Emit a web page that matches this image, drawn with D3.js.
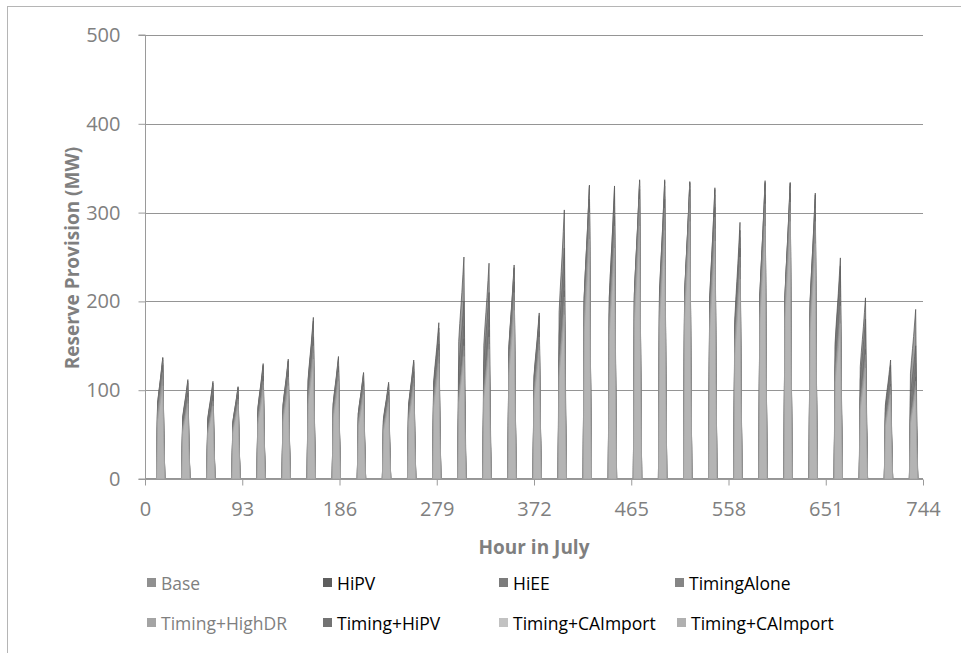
<!DOCTYPE html>
<html>
<head>
<meta charset="utf-8">
<script src="https://cdn.jsdelivr.net/npm/d3@7"></script>
<style>
  html, body { margin: 0; padding: 0; background: #fff; }
  svg { display: block; }
  text { font-family: "Open Sans", "DejaVu Sans", sans-serif; }
</style>
</head>
<body>
<svg id="chart" width="961" height="653"></svg>
<script>
// Daily peak reserve provision (MW) per scenario, July days 1..31
const seriesNames = ["Base", "HiPV", "HiEE", "TimingAlone",
  "Timing+HighDR", "Timing+HiPV", "Timing+CAImport", "Timing+CAImport"];

const base          = [130,100,96,97,118,126,165,130,112,100,124,155,160,171,227,170,216,320,300,330,318,330,310,265,325,328,305,205,149,110,118];
const hiPV          = [137,112,110,104,130,135,182,138,120,109,134,176,250,243,241,187,303,331,330,337,337,335,328,289,336,334,322,249,204,134,191];
const hiEE          = [128,97,94,95,116,122,160,127,110,98,121,152,158,168,222,166,212,315,296,326,315,326,306,260,320,322,300,200,146,107,115];
const timingAlone   = [134,108,106,102,126,132,175,134,118,105,130,165,172,180,236,180,230,328,310,334,330,333,320,272,332,330,315,215,155,120,130];
const timingHighDR  = [120,92,88,90,110,115,150,120,104,94,114,145,150,160,210,160,205,300,285,315,305,318,295,250,310,312,290,195,140,104,110];
const timingHiPV    = [136,110,108,103,128,133,178,136,119,107,132,170,200,210,238,184,260,330,328,336,335,334,326,280,334,333,320,240,180,128,150];
const timingCA1     = [105,85,82,84,100,105,135,110,95,86,104,130,138,146,190,145,185,270,260,285,280,290,268,225,285,290,265,175,125,95,100];
const timingCA2     = [112,88,86,88,106,112,142,115,100,90,108,138,145,152,200,152,195,285,275,300,295,305,282,238,298,302,280,185,132,100,105];

// Typical within-day shape of reserve holding: hour of day and share of the daily peak
const profileHours = [11, 12, 13, 14, 15, 16, 17, 18, 19];
const profileShare = [0, 0.62, 0.7, 0.77, 0.84, 0.92, 1, 0.4, 0];

const xTicks = [0, 93, 186, 279, 372, 465, 558, 651, 744];
const yTicks = [0, 100, 200, 300, 400, 500];

const seriesPeaks = [base, hiPV, hiEE, timingAlone, timingHighDR, timingHiPV, timingCA1, timingCA2];
const fills   = ["#909090", "#5e5e5e", "#7c7c7c", "#858585", "#a4a4a4", "#737373", "#c2c2c2", "#b0b0b0"];
const labelColors = ["#7f7f7f", "#000", "#000", "#000", "#7f7f7f", "#000", "#000", "#000"];
// draw order: tallest first so lower series stay visible on top
const drawOrder = [1, 5, 3, 0, 2, 7, 4, 6];

const svg = d3.select("#chart");
const plotL = 145, plotR = 923, plotT = 35, plotB = 479;

const x = d3.scaleLinear().domain([0, 744]).range([plotL, plotR]);
const y = d3.scaleLinear().domain([0, 500]).range([plotB, plotT]);

// frame lines (left and top)
svg.append("line").attr("x1", 7.5).attr("x2", 7.5).attr("y1", 6).attr("y2", 653)
  .attr("stroke", "#b5b5b5").attr("stroke-width", 1);
svg.append("line").attr("x1", 7).attr("x2", 961).attr("y1", 6.5).attr("y2", 6.5)
  .attr("stroke", "#b5b5b5").attr("stroke-width", 1);

// horizontal gridlines
svg.append("g").selectAll("line").data(yTicks.filter(d => d > 0)).join("line")
  .attr("x1", plotL).attr("x2", plotR)
  .attr("y1", d => Math.round(y(d)) + 0.5).attr("y2", d => Math.round(y(d)) + 0.5)
  .attr("stroke", "#959595").attr("stroke-width", 1.2);

// series areas
const area = d3.area()
  .x(d => x(d.t))
  .y0(y(0))
  .y1(d => y(d.v));

function seriesPoints(peaks) {
  const pts = [{t: 0, v: 0}];
  peaks.forEach((p, day) => {
    profileHours.forEach((h, i) => {
      pts.push({t: day * 24 + h, v: p * profileShare[i]});
    });
  });
  pts.push({t: 744, v: 0});
  return pts;
}

const gSeries = svg.append("g");
drawOrder.forEach(i => {
  gSeries.append("path")
    .datum(seriesPoints(seriesPeaks[i]))
    .attr("d", area)
    .attr("fill", fills[i])
    .attr("fill-opacity", 0.6)
    .attr("stroke", d3.color(fills[i]).darker(0.5))
    .attr("stroke-width", 0.7);
});

// y axis
const yAxis = d3.axisLeft(y).tickValues(yTicks).tickSize(7).tickPadding(18);
const gy = svg.append("g").attr("transform", `translate(${plotL + 0.5},0)`).call(yAxis);
gy.select(".domain").attr("stroke", "#9a9a9a").attr("d", `M-7,${plotT}H0V${plotB}H-7`);
gy.selectAll(".tick line").attr("stroke", "#9a9a9a");
gy.selectAll(".tick text").attr("fill", "#808080").style("font-size", "20px")
  .style("font-family", "'Open Sans', sans-serif");

// x axis
const xAxis = d3.axisBottom(x).tickValues(xTicks).tickSize(6).tickPadding(16);
const gx = svg.append("g").attr("transform", `translate(0,${plotB + 0.5})`).call(xAxis);
gx.select(".domain").attr("stroke", "#9a9a9a").attr("d", `M${plotL},0H${plotR}`);
gx.selectAll(".tick line").attr("stroke", "#9a9a9a");
gx.selectAll(".tick text").attr("fill", "#808080").style("font-size", "20px")
  .style("font-family", "'Open Sans', sans-serif");

// axis titles
svg.append("text")
  .attr("x", (plotL + plotR) / 2).attr("y", 554)
  .attr("text-anchor", "middle")
  .attr("fill", "#7f7f7f").style("font-size", "19px").style("font-weight", "bold")
  .text("Hour in July");

svg.append("text")
  .attr("transform", "translate(79,258) rotate(-90)")
  .attr("text-anchor", "middle")
  .attr("fill", "#7f7f7f").style("font-size", "19px").style("font-weight", "bold")
  .text("Reserve Provision (MW)");

// legend
const legendPos = [
  [147, 583], [323, 583], [499, 583], [675, 583],
  [147, 623], [323, 623], [499, 623], [677, 623]
];
const gLeg = svg.append("g");
seriesNames.forEach((name, i) => {
  const [lx, ly] = legendPos[i];
  gLeg.append("rect").attr("x", lx).attr("y", ly - 5).attr("width", 9).attr("height", 9)
    .attr("fill", fills[i]);
  gLeg.append("text").attr("x", lx + 14).attr("y", ly)
    .attr("dominant-baseline", "central")
    .attr("fill", labelColors[i]).style("font-size", "17.5px")
    .text(name);
});
</script>
</body>
</html>
